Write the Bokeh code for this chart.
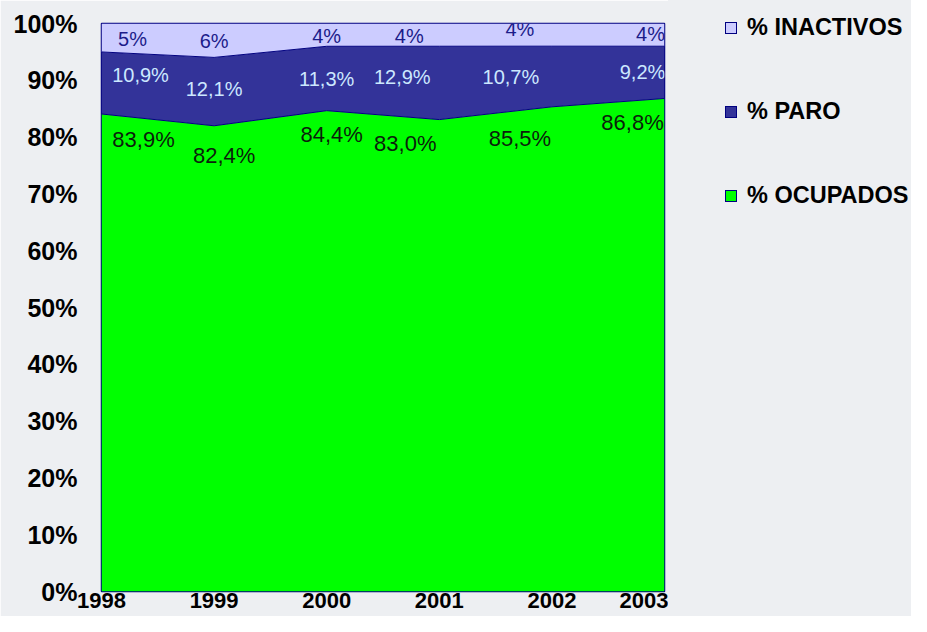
from bokeh.plotting import figure
from bokeh.layouts import row
from bokeh.models import FixedTicker, PrintfTickFormatter, ColumnDataSource, Div
from bokeh.core.properties import value
from bokeh.embed import file_html
from bokeh.resources import INLINE

# ---- data ----
years = [1998, 1999, 2000, 2001, 2002, 2003]
ocupados = [83.9, 82.4, 84.4, 83.0, 85.5, 86.8]
paro = [10.9, 12.1, 11.3, 12.9, 10.7, 9.2]
inactivos = [5, 6, 4, 4, 4, 4]
y_ticks = [0, 10, 20, 30, 40, 50, 60, 70, 80, 90, 100]
series_names = ["% INACTIVOS", "% PARO", "% OCUPADOS"]

# ---- 100% stacking ----
totals = [o + p + i for o, p, i in zip(ocupados, paro, inactivos)]
base = [0.0 for _ in years]
top_ocu = [o / t * 100 for o, t in zip(ocupados, totals)]
top_paro = [(o + p) / t * 100 for o, p, t in zip(ocupados, paro, totals)]
top_ina = [100.0 for _ in years]

def fmt1(v):
    return ("%.1f" % v).replace(".", ",") + "%"

def fmt0(v):
    return "%d%%" % v

# label layout (pixel offsets from the data point / series top)
ocu_dx = [42, 10, 5, -34, -32, -32]
ocu_dy = [26, 30, 24, 24, 32, 24]
paro_dx = [39, 0, 0, -37, -41, -22]
paro_dy = [23, 32, 33, 31, 31, 26]
ina_dx = [31, 0, 0, -30, -32, -14]
ina_dy = [15, 17, 12, 12, 5, 10]

BG = "#edeff2"
NAVY = "#000080"
C_OCU = "#00ff00"
C_PARO = "#333399"
C_INA = "#ccccff"

W_MAIN, W_LEG, H = 668, 243, 616

p = figure(width=W_MAIN, height=H, output_backend="svg", toolbar_location=None,
           x_range=(1998, 2003), y_range=(0, 100),
           min_border_left=101, min_border_right=4, min_border_top=23, min_border_bottom=25)
p.background_fill_color = BG
p.border_fill_color = BG
p.outline_line_color = NAVY
p.outline_line_width = 1.5
p.grid.visible = False

src = ColumnDataSource(dict(x=years, b=base, o=top_ocu, pr=top_paro, i=top_ina))
p.varea(x="x", y1="b", y2="o", source=src, fill_color=C_OCU)
p.varea(x="x", y1="o", y2="pr", source=src, fill_color=C_PARO)
p.varea(x="x", y1="pr", y2="i", source=src, fill_color=C_INA)
p.line(x="x", y="o", source=src, line_color=NAVY, line_width=1)
p.line(x="x", y="pr", source=src, line_color=NAVY, line_width=1)

# data labels
for tops, vals, f, dx, dy, col, size in [
    (top_ocu, ocupados, fmt1, ocu_dx, ocu_dy, "#0b1f0b", "22px"),
    (top_paro, paro, fmt1, paro_dx, paro_dy, "#cce8ff", "20px"),
    (top_ina, inactivos, fmt0, ina_dx, ina_dy, "#1c1c8a", "20px"),
]:
    ls = ColumnDataSource(dict(x=years, y=tops, t=[f(v) for v in vals], dx=dx, dy=dy))
    p.text(x="x", y="y", text="t", x_offset="dx", y_offset="dy", source=ls,
           text_font=value("Liberation Sans"), text_font_size=size, text_color=col,
           text_align="center", text_baseline="middle")

# axes
p.xaxis.ticker = FixedTicker(ticks=years)
p.yaxis.ticker = FixedTicker(ticks=y_ticks)
p.yaxis.formatter = PrintfTickFormatter(format="%d%%")
for ax in (p.xaxis, p.yaxis):
    ax.axis_line_color = None
    ax.major_tick_line_color = None
    ax.minor_tick_line_color = None
    ax.major_tick_in = 0
    ax.major_tick_out = 0
    ax.major_label_text_font = "Liberation Sans"
    ax.major_label_text_font_style = "bold"
    ax.major_label_text_color = "#000000"
p.yaxis.major_label_text_font_size = "25px"
p.xaxis.major_label_text_font_size = "22px"
p.yaxis.major_label_standoff = 24
p.xaxis.major_label_standoff = 1

# ---- legend panel (HTML, pixel layout) ----
leg_y = [28, 112, 196]
sq_x, sq = 57, 12
txt_x = 79
parts = []
for name, col, yc in zip(series_names, [C_INA, C_PARO, C_OCU], leg_y):
    parts.append(
        f'<div style="position:absolute;left:{sq_x}px;top:{yc - sq // 2}px;width:{sq}px;height:{sq}px;'
        f'background:{col};border:1px solid {NAVY};box-sizing:border-box"></div>')
    parts.append(
        f'<div style="position:absolute;left:{txt_x}px;top:{yc}px;transform:translateY(-50%);'
        f'line-height:1;white-space:nowrap">{name}</div>')
html = (f'<div style="position:relative;width:{W_LEG}px;height:{H}px;background:{BG};'
        f"font-family:'Liberation Sans',Arial,sans-serif;font-weight:bold;font-size:23.5px;"
        f'color:#000000;overflow:hidden">' + "".join(parts) + "</div>")
lg = Div(text=html, width=W_LEG, height=H, margin=0,
         styles={"background-color": BG})

layout = row(p, lg, spacing=0)
open("out.html", "w").write(file_html(layout, INLINE))
